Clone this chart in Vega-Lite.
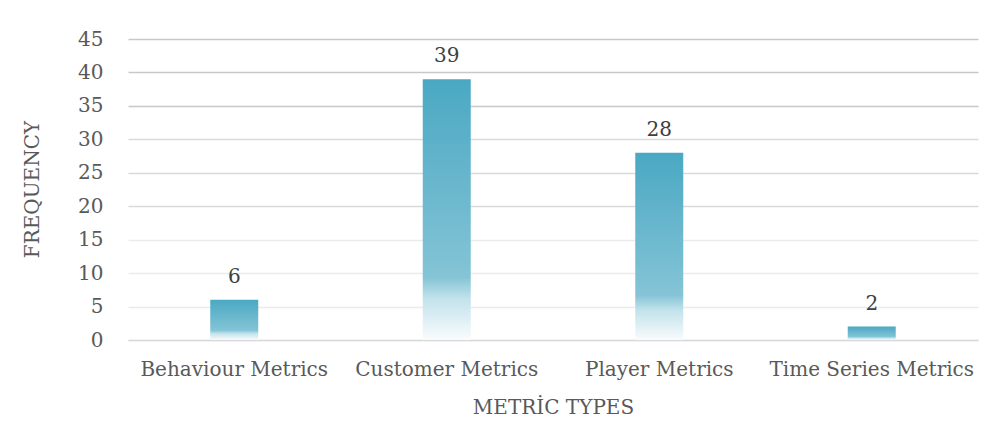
{
  "$schema": "https://vega.github.io/schema/vega-lite/v6.json",
  "autosize": {"type": "none"},
  "width": 850,
  "height": 301,
  "padding": {"left": 128, "top": 39, "right": 18, "bottom": 108},
  "background": "white",
  "config": {
    "view": {"stroke": null},
    "font": "DejaVu Serif"
  },
  "data": {
    "values": [
      {"type": "Behaviour Metrics", "frequency": 6},
      {"type": "Customer Metrics", "frequency": 39},
      {"type": "Player Metrics", "frequency": 28},
      {"type": "Time Series Metrics", "frequency": 2}
    ]
  },
  "encoding": {
    "x": {
      "field": "type",
      "type": "nominal",
      "sort": null,
      "scale": {"paddingInner": 0, "paddingOuter": 0},
      "axis": {
        "title": "METRİC TYPES",
        "labelAngle": 0,
        "labelLimit": 0,
        "labelFont": "DejaVu Serif",
        "labelFontSize": 20,
        "labelColor": "#595959",
        "labelPadding": 19,
        "ticks": false,
        "domainColor": "#d9d9d9",
        "domainWidth": 1.5,
        "titleFont": "DejaVu Serif",
        "titleFontSize": 20,
        "titleFontWeight": "normal",
        "titleColor": "#595959",
        "titleY": 67,
        "titleBaseline": "middle"
      }
    },
    "y": {
      "field": "frequency",
      "type": "quantitative",
      "scale": {"domain": [0, 45], "nice": false},
      "axis": {
        "title": "FREQUENCY",
        "values": [0, 5, 10, 15, 20, 25, 30, 35, 40, 45],
        "domain": false,
        "ticks": false,
        "labelFont": "DejaVu Serif",
        "labelFontSize": 20,
        "labelColor": "#595959",
        "labelPadding": 25,
        "gridColor": {"expr": "datum.value >= 35 ? '#c8c8c8' : datum.value >= 20 ? '#d9d9d9' : '#ebebeb'"},
        "gridWidth": 1.5,
        "titleFont": "DejaVu Serif",
        "titleFontSize": 20,
        "titleFontWeight": "normal",
        "titleColor": "#595959",
        "titleX": -96,
        "titleY": 150,
        "titleBaseline": "middle",
        "titleAlign": "center"
      }
    }
  },
  "layer": [
    {
      "mark": {
        "type": "bar",
        "width": 48,
        "color": {
          "gradient": "linear",
          "x1": 0, "y1": 0, "x2": 0, "y2": 1,
          "stops": [
            {"offset": 0, "color": "#4aa8c3"},
            {"offset": 0.76, "color": "#84c4d6"},
            {"offset": 0.84, "color": "#c2e2eb"},
            {"offset": 1, "color": "#f9fcfd"}
          ]
        }
      }
    },
    {
      "mark": {
        "type": "text",
        "baseline": "alphabetic",
        "dy": -17,
        "fontSize": 20,
        "color": "#404040",
        "font": "DejaVu Serif"
      },
      "encoding": {
        "text": {"field": "frequency", "type": "quantitative"}
      }
    }
  ]
}
